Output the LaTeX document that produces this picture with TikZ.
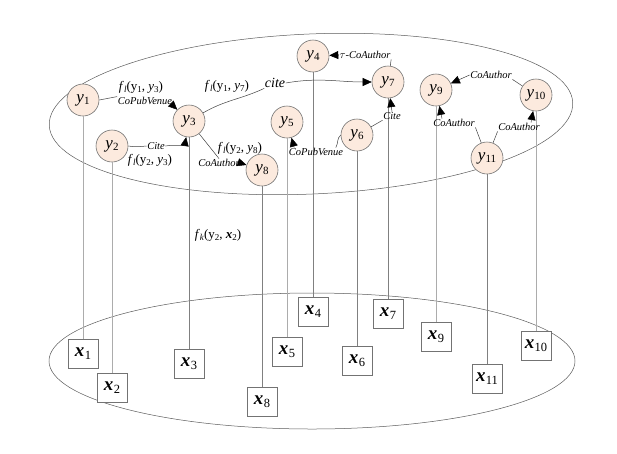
\documentclass[tikz,border=0pt]{standalone}
\usepackage{fontspec}
\setmainfont{Liberation Serif}
\usetikzlibrary{arrows.meta}

\definecolor{nodefill}{RGB}{252,234,222}
\definecolor{nodeline}{RGB}{115,115,115}
\definecolor{planeline}{RGB}{90,90,90}

% lowered subscripts in the body font
\newcommand{\lowsub}[2]{\raisebox{-0.35ex}{\fontsize{#1}{#1}\selectfont #2}}
\newcommand{\ylab}[1]{\textit{y}\kern0.2pt\lowsub{11}{#1}}
\newcommand{\xlab}[1]{\textbf{\textit{x}}\kern0.3pt\lowsub{12.5}{#1}}
\newcommand{\fl}{\textit{f}\lowsub{9}{\textit{l}}}
\newcommand{\fk}{\textit{f}\lowsub{9}{\textit{k}}}
\newcommand{\ys}[1]{y\lowsub{9}{#1}}
\newcommand{\yi}[1]{\textit{y}\lowsub{9}{#1}}
\newcommand{\xs}[1]{\textbf{\textit{x}}\lowsub{9}{#1}}

\tikzset{
  ynode/.style={circle, draw=nodeline, fill=nodefill, line width=0.6pt,
    minimum size=32pt, inner sep=0pt, font=\fontsize{17}{17}\selectfont},
  xnode/.style={rectangle, draw=nodeline, fill=white, line width=0.6pt,
    minimum width=30pt, minimum height=29pt, inner sep=0pt,
    font=\fontsize{19}{19}\selectfont},
  rel/.style={font=\fontsize{10.5}{11}\selectfont\itshape, inner sep=0.5pt},
  fn/.style={font=\fontsize{13}{13}\selectfont, inner sep=0pt},
  link/.style={draw=black!75, line width=0.5pt},
  arr/.style={link, -{Triangle[length=9pt,width=8pt,color=black]}},
  drop/.style={draw=gray, line width=0.8pt},
  lightdrop/.style={draw=gray!65, line width=0.9pt},
  plane/.style={draw=planeline, line width=0.5pt},
}

\begin{document}
\begin{tikzpicture}[x=1pt,y=-1pt]
\useasboundingbox (0,0) rectangle (617,453);

% the two planes
\draw[plane] (311,114) ellipse [x radius=262, y radius=80, rotate=2.5];
\draw[plane] (312,361) ellipse [x radius=263, y radius=68];

% label nodes
\node[ynode] (y1)  at (83,100)  {\ylab{1}};
\node[ynode] (y2)  at (112,146) {\ylab{2}};
\node[ynode] (y3)  at (189,121) {\ylab{3}};
\node[ynode] (y4)  at (313,56)  {\ylab{4}};
\node[ynode] (y5)  at (287,122) {\ylab{5}};
\node[ynode] (y6)  at (357,135) {\ylab{6}};
\node[ynode] (y7)  at (388,82)  {\ylab{7}};
\node[ynode] (y8)  at (262,170) {\ylab{8}};
\node[ynode] (y9)  at (436,90)  {\ylab{9}};
\node[ynode] (y10) at (536,95)  {\ylab{10}};
\node[ynode] (y11) at (487,158) {\ylab{11}};

% attribute nodes
\node[xnode] (x1)  at (83,354)  {\xlab{1}};
\node[xnode] (x2)  at (112,388) {\xlab{2}};
\node[xnode] (x3)  at (189,364) {\xlab{3}};
\node[xnode] (x4)  at (313,312) {\xlab{4}};
\node[xnode] (x5)  at (287,352) {\xlab{5}};
\node[xnode] (x6)  at (357,361) {\xlab{6}};
\node[xnode] (x7)  at (388,314) {\xlab{7}};
\node[xnode] (x8)  at (262,402) {\xlab{8}};
\node[xnode] (x9)  at (436,337) {\xlab{9}};
\node[xnode] (x10) at (536,346) {\xlab{10}};
\node[xnode] (x11) at (487,379) {\xlab{11}};

% links between labels and attributes
\draw[lightdrop] (y1) -- (x1);
\draw[lightdrop] (y2) -- (x2);
\draw[drop] (y3) -- (x3);
\draw[drop] (y4) -- (x4);
\draw[lightdrop] (y5) -- (x5);
\draw[drop] (y6) -- (x6);
\draw[drop] (y7) -- (x7);
\draw[drop] (y8) -- (x8);
\draw[lightdrop] (y9) -- (x9);
\draw[lightdrop] (y10) -- (x10);
\draw[drop] (y11) -- (x11);

% relation labels
\node[rel] (r13)  at (145,101) {CoPubVenue};
\node[rel] (r23)  at (156,146) {Cite};
\node[font=\fontsize{14}{14}\selectfont\itshape, inner sep=0.5pt] (r37) at (275,83) {cite};
\node[rel] (r38)  at (219,163) {CoAuthor};
\node[rel] (r74)  at (365,55)  {$\tau$-CoAuthor};
\node[rel] (r67)  at (392,116) {Cite};
\node[rel] (r65)  at (316,152) {CoPubVenue};
\node[rel] (r109) at (491,75)  {CoAuthor};
\node[rel] (r119) at (454,123) {CoAuthor};
\node[rel] (r1110) at (519,127) {CoAuthor};

% factor labels
\node[fn] (f13) at (141,87)  {\fl(\ys{1}, \yi{3})};
\node[fn] (f17) at (227,86)  {\fl(\ys{1}, \yi{7})};
\node[fn] (f23) at (150,160) {\fl(\ys{2}, \yi{3})};
\node[fn] (f28) at (240,148) {\fl(\ys{2}, \yi{8})};
\node[fn] (fk)  at (218,235) {\fk(\ys{2}, \xs{2})};

% relation edges
\draw[link] (y1.east) -- (r13.north west);
\draw[arr] (r13.south east) -- (y3);
\draw[link] (y2.east) to[out=-10,in=185] (r23.west);
\draw[arr] (r23.east) to[out=10,in=-100] (y3);
\draw[link] (y3) to[out=30,in=205] (r37.south west);
\draw[arr] (r37.east) to[out=10,in=180] (y7);
\draw[link] (y3) -- (r38.north);
\draw[arr] (r38.east) -- (y8);
\draw[link] (y7) -- (r74.south east);
\draw[arr] (r74.west) -- (y4);
\draw[link] (y6) -- (r67.south west);
\draw[arr] (r67.north) -- (y7);
\draw[link] (y6.west) to[out=220,in=60] ([xshift=-8pt]r65.north east);
\draw[arr] ([xshift=6pt]r65.north west) -- (y5);
\draw[link] (y10) -- (r109.south east);
\draw[arr] (r109.west) -- (y9);
\draw[link] (y11) -- (r119.south east);
\draw[arr] ([xshift=-12pt]r119.north) -- (y9);
\draw[link] (y11) -- (r1110.south west);
\draw[arr] ([xshift=12pt]r1110.north) -- (y10);
\end{tikzpicture}
\end{document}
